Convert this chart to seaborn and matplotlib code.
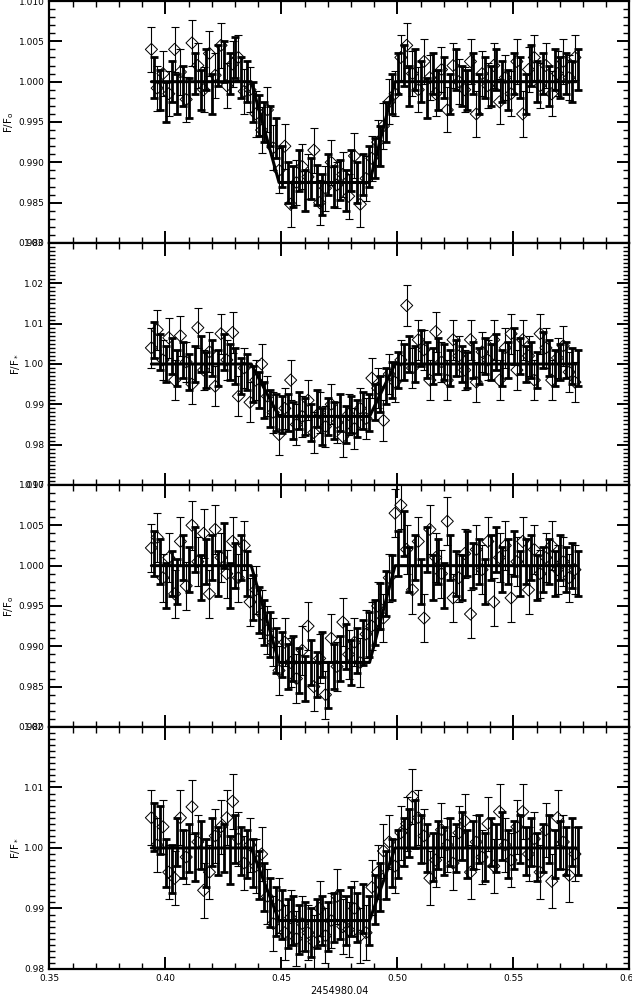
import matplotlib
matplotlib.use('Agg')
import matplotlib.pyplot as plt
import seaborn as sns
from matplotlib.ticker import MultipleLocator, FormatStrFormatter

# czasy obserwacji (dwie serie przesuniete wzgledem siebie)
T_OPEN = [0.3940, 0.3965, 0.3990, 0.4015, 0.4040, 0.4065, 0.4090, 0.4115, 0.4140, 0.4165,
          0.4190, 0.4215, 0.4240, 0.4265, 0.4290, 0.4315, 0.4340, 0.4365, 0.4390, 0.4415,
          0.4440, 0.4465, 0.4490, 0.4515, 0.4540, 0.4565, 0.4590, 0.4615, 0.4640, 0.4665,
          0.4690, 0.4715, 0.4740, 0.4765, 0.4790, 0.4815, 0.4840, 0.4865, 0.4890, 0.4915,
          0.4940, 0.4965, 0.4990, 0.5015, 0.5040, 0.5065, 0.5090, 0.5115, 0.5140, 0.5165,
          0.5190, 0.5215, 0.5240, 0.5265, 0.5290, 0.5315, 0.5340, 0.5365, 0.5390, 0.5415,
          0.5440, 0.5465, 0.5490, 0.5515, 0.5540, 0.5565, 0.5590, 0.5615, 0.5640, 0.5665,
          0.5690, 0.5715, 0.5740, 0.5765]
T_THICK = [0.3952, 0.3977, 0.4002, 0.4027, 0.4052, 0.4077, 0.4102, 0.4127, 0.4152, 0.4177,
           0.4202, 0.4227, 0.4252, 0.4277, 0.4302, 0.4327, 0.4352, 0.4377, 0.4402, 0.4427,
           0.4452, 0.4477, 0.4502, 0.4527, 0.4552, 0.4577, 0.4602, 0.4627, 0.4652, 0.4677,
           0.4702, 0.4727, 0.4752, 0.4777, 0.4802, 0.4827, 0.4852, 0.4877, 0.4902, 0.4927,
           0.4952, 0.4977, 0.5002, 0.5027, 0.5052, 0.5077, 0.5102, 0.5127, 0.5152, 0.5177,
           0.5202, 0.5227, 0.5252, 0.5277, 0.5302, 0.5327, 0.5352, 0.5377, 0.5402, 0.5427,
           0.5452, 0.5477, 0.5502, 0.5527, 0.5552, 0.5577, 0.5602, 0.5627, 0.5652, 0.5677,
           0.5702, 0.5727, 0.5752, 0.5777]

# panel 1
P1_OPEN = [1.0040, 0.9992, 1.0010, 0.9985, 1.0040, 1.0012, 0.9978, 1.0048, 1.0020, 0.9990,
           1.0035, 1.0008, 1.0045, 0.9995, 1.0022, 1.0030, 0.9988,
           0.9990, 0.9960, 0.9940, 0.9965, 0.9918,
           0.9890, 0.9920, 0.9848, 0.9875, 0.9895, 0.9882, 0.9915, 0.9850, 0.9868, 0.9900,
           0.9872, 0.9885, 0.9858, 0.9908, 0.9848, 0.9880,
           0.9905, 0.9925, 0.9945, 0.9975, 0.9985,
           1.0030, 1.0045, 1.0010, 0.9990, 1.0025, 1.0005, 0.9985, 1.0015, 0.9965, 1.0020,
           1.0000, 0.9990, 1.0025, 0.9960, 1.0010, 0.9995, 1.0020, 0.9975, 1.0005, 0.9985,
           1.0025, 0.9960, 1.0015, 1.0030, 0.9995, 1.0020, 0.9985, 1.0010, 1.0025, 1.0005,
           1.0030]
P1_THICK = [1.0005, 0.9990, 0.9975, 1.0000, 0.9985, 0.9995, 0.9980, 1.0010, 0.9990, 1.0015,
            0.9985, 1.0020, 1.0025, 1.0010, 1.0030, 1.0005, 1.0000,
            0.9975, 0.9958, 0.9950, 0.9945, 0.9930,
            0.9895, 0.9875, 0.9870, 0.9890, 0.9865, 0.9880, 0.9872, 0.9860, 0.9885, 0.9870,
            0.9878, 0.9865, 0.9890, 0.9875, 0.9885, 0.9895,
            0.9905, 0.9920, 0.9950, 0.9985, 1.0010,
            1.0020, 0.9995, 1.0015, 1.0000, 0.9980, 1.0010, 0.9990, 1.0005, 0.9985, 1.0015,
            0.9995, 0.9990, 1.0010, 0.9985, 1.0005, 0.9995, 1.0015, 1.0000, 0.9990, 1.0010,
            1.0005, 0.9985, 1.0020, 1.0000, 1.0010, 0.9995, 1.0015, 1.0005, 1.0010, 1.0000,
            1.0015]

# panel 2
P2_OPEN = [1.0040, 1.0085, 1.0010, 1.0065, 0.9960, 1.0070, 1.0005, 0.9950, 1.0090, 0.9985,
           1.0030, 0.9945, 1.0075, 1.0010, 1.0078, 0.9920, 0.9990,
           0.9905, 0.9960, 1.0000, 0.9920, 0.9880,
           0.9825, 0.9890, 0.9960, 0.9850, 0.9870, 0.9910, 0.9830, 0.9880, 0.9845, 0.9900,
           0.9855, 0.9820, 0.9875, 0.9840, 0.9890, 0.9865,
           0.9965, 0.9940, 0.9860, 0.9975, 0.9955,
           1.0010, 1.0145, 0.9990, 1.0060, 1.0035, 0.9960, 1.0080, 1.0005, 0.9960, 1.0060,
           1.0020, 0.9985, 1.0060, 0.9955, 1.0030, 1.0010, 1.0060, 0.9960, 1.0040, 1.0075,
           0.9985, 1.0060, 1.0020, 0.9960, 1.0075, 1.0040, 0.9960, 1.0015, 1.0045, 0.9980,
           0.9955]
P2_THICK = [1.0060, 1.0030, 1.0000, 1.0020, 0.9990, 1.0010, 0.9980, 1.0000, 1.0025, 0.9985,
            1.0015, 0.9990, 1.0030, 1.0005, 0.9995, 0.9970, 0.9980,
            0.9950, 0.9935, 0.9910, 0.9890, 0.9880,
            0.9875, 0.9880, 0.9860, 0.9885, 0.9870, 0.9855, 0.9890, 0.9845, 0.9870, 0.9860,
            0.9880, 0.9850, 0.9875, 0.9865, 0.9885, 0.9880,
            0.9905, 0.9925, 0.9945, 0.9960, 0.9985,
            1.0005, 1.0025, 1.0000, 1.0040, 1.0010, 0.9995, 1.0020, 1.0005, 0.9990, 1.0015,
            1.0000, 0.9985, 1.0010, 0.9995, 1.0020, 1.0005, 1.0030, 0.9990, 1.0010, 1.0045,
            1.0020, 1.0000, 1.0010, 0.9985, 1.0035, 1.0015, 0.9990, 1.0005, 1.0010, 0.9995,
            0.9990]

# panel 3
P3_OPEN = [1.0022, 1.0035, 0.9985, 1.0010, 0.9965, 1.0030, 0.9975, 1.0050, 1.0005, 1.0040,
           0.9965, 1.0045, 1.0010, 0.9990, 1.0030, 0.9985, 1.0025,
           0.9955, 0.9970, 0.9940, 0.9920, 0.9905,
           0.9870, 0.9905, 0.9880, 0.9860, 0.9895, 0.9925, 0.9850, 0.9885, 0.9840, 0.9910,
           0.9875, 0.9930, 0.9890, 0.9905, 0.9880, 0.9915,
           0.9925, 0.9950, 0.9935, 0.9985, 1.0065,
           1.0075, 1.0020, 0.9970, 1.0030, 0.9935, 1.0045, 1.0010, 0.9990, 1.0055, 0.9960,
           0.9985, 1.0015, 0.9940, 1.0020, 0.9995, 1.0030, 0.9955, 1.0010, 1.0025, 0.9960,
           1.0005, 1.0030, 0.9970, 1.0020, 0.9990, 1.0010, 1.0025, 0.9995, 1.0005, 0.9985,
           0.9995]
P3_THICK = [1.0015, 1.0005, 0.9975, 0.9990, 0.9980, 1.0010, 0.9995, 1.0020, 0.9985, 1.0005,
            1.0010, 0.9990, 1.0025, 0.9975, 1.0000, 1.0010, 0.9990,
            0.9960, 0.9945, 0.9930, 0.9915, 0.9895,
            0.9890, 0.9875, 0.9885, 0.9870, 0.9860, 0.9880, 0.9865, 0.9890, 0.9852, 0.9875,
            0.9885, 0.9900, 0.9880, 0.9895, 0.9905, 0.9915,
            0.9930, 0.9950, 0.9965, 0.9985, 1.0015,
            1.0040, 0.9995, 1.0010, 0.9980, 1.0020, 0.9985, 1.0005, 0.9975, 1.0010, 0.9990,
            0.9985, 1.0015, 1.0000, 1.0005, 0.9980, 1.0010, 1.0020, 0.9995, 1.0005, 1.0015,
            0.9990, 1.0005, 1.0010, 0.9985, 0.9995, 1.0005, 0.9990, 1.0010, 0.9995, 1.0000,
            0.9990]

# panel 4
P4_OPEN = [1.0050, 1.0005, 1.0035, 0.9960, 0.9950, 1.0050, 0.9985, 1.0068, 1.0010, 0.9930,
           0.9960, 1.0020, 1.0035, 1.0050, 1.0077, 1.0015, 0.9975,
           1.0005, 0.9970, 0.9990, 0.9920, 0.9875,
           0.9905, 0.9860, 0.9885, 0.9850, 0.9875, 0.9860, 0.9845, 0.9900, 0.9855, 0.9880,
           0.9920, 0.9870, 0.9865, 0.9900, 0.9855, 0.9860,
           0.9935, 0.9960, 0.9995, 1.0010, 0.9970,
           1.0025, 1.0040, 1.0085, 1.0050, 1.0020, 0.9950, 0.9980, 1.0030, 1.0005, 0.9975,
           1.0025, 1.0045, 0.9960, 1.0010, 0.9985, 1.0040, 0.9970, 1.0060, 1.0005, 0.9980,
           1.0035, 1.0060, 0.9990, 1.0015, 0.9960, 1.0030, 0.9945, 1.0050, 1.0010, 0.9955,
           0.9990]
P4_THICK = [1.0035, 1.0030, 0.9975, 0.9965, 1.0010, 0.9990, 1.0000, 0.9985, 1.0005, 0.9975,
            1.0010, 0.9995, 1.0000, 0.9980, 1.0015, 0.9995, 0.9990,
            0.9975, 0.9955, 0.9935, 0.9910, 0.9895,
            0.9890, 0.9875, 0.9880, 0.9865, 0.9870, 0.9860, 0.9875, 0.9880, 0.9870, 0.9885,
            0.9890, 0.9880, 0.9895, 0.9885, 0.9900, 0.9880,
            0.9915, 0.9935, 0.9955, 0.9975, 0.9990,
            1.0010, 1.0025, 1.0040, 1.0015, 1.0000, 0.9985, 1.0005, 0.9995, 1.0010, 1.0000,
            1.0020, 0.9990, 1.0005, 1.0015, 0.9985, 1.0010, 1.0000, 1.0020, 0.9990, 1.0005,
            1.0015, 0.9995, 1.0010, 0.9985, 1.0000, 1.0015, 0.9990, 1.0005, 0.9995, 1.0010,
            0.9995]

ERR_OPEN = [0.0028, 0.0050, 0.0030, 0.0045]
ERR_THICK = [0.0025, 0.0045, 0.0028, 0.0040]

# model tranzytu (trapez)
MODEL_T = [0.394, 0.437, 0.449, 0.488, 0.499, 0.577]
MODEL_F = [
    [1.0, 1.0, 0.9875, 0.9875, 1.0, 1.0],
    [1.0, 1.0, 0.9870, 0.9870, 1.0, 1.0],
    [1.0, 1.0, 0.9880, 0.9880, 1.0, 1.0],
    [1.0, 1.0, 0.9880, 0.9880, 1.0, 1.0],
]

Y_LIMITS = [(0.980, 1.010), (0.97, 1.03), (0.980, 1.010), (0.98, 1.02)]
Y_MAJOR = [0.005, 0.01, 0.005, 0.01]
Y_FMT = ['%.3f', '%.2f', '%.3f', '%.2f']
Y_LABELS = ['F/F$_o$', 'F/F$_*$', 'F/F$_o$', 'F/F$_*$']
X_LABEL = '2454980.04'

OPEN = [P1_OPEN, P2_OPEN, P3_OPEN, P4_OPEN]
THICK = [P1_THICK, P2_THICK, P3_THICK, P4_THICK]

sns.set_style("ticks")
plt.rcParams.update({
    'font.family': ['DejaVu Sans'],
    'mathtext.default': 'regular',
    'text.color': 'black', 'axes.labelcolor': 'black', 'axes.edgecolor': 'black',
    'xtick.color': 'black', 'ytick.color': 'black',
    'xtick.direction': 'in', 'ytick.direction': 'in',
    'xtick.top': True, 'ytick.right': True,
    'axes.linewidth': 1.6,
})

fig, axes = plt.subplots(4, 1, figsize=(6.32, 10.01), dpi=100, sharex=True)
fig.subplots_adjust(left=0.078, right=0.996, top=0.999, bottom=0.032, hspace=0)

for i, ax in enumerate(axes):
    ax.errorbar(T_OPEN, OPEN[i], yerr=ERR_OPEN[i], fmt='none', ecolor='k',
                elinewidth=0.8, capsize=3, capthick=0.8, zorder=2)
    ax.errorbar(T_THICK, THICK[i], yerr=ERR_THICK[i], fmt='none', ecolor='k',
                elinewidth=2.0, capsize=3, capthick=2.0, zorder=3)
    sns.scatterplot(x=T_OPEN, y=OPEN[i], marker='D', s=38, color='k',
                    facecolor='none', edgecolor='k', linewidth=0.7, ax=ax, zorder=4)
    sns.lineplot(x=MODEL_T, y=MODEL_F[i], color='k', linewidth=2.2, ax=ax, zorder=5)

    ax.set_xlim(0.35, 0.60)
    ax.set_ylim(*Y_LIMITS[i])
    ax.xaxis.set_major_locator(MultipleLocator(0.05))
    ax.xaxis.set_minor_locator(MultipleLocator(0.01))
    ax.yaxis.set_major_locator(MultipleLocator(Y_MAJOR[i]))
    ax.yaxis.set_minor_locator(MultipleLocator(0.001))
    ax.yaxis.set_major_formatter(FormatStrFormatter(Y_FMT[i]))
    ax.tick_params(which='major', length=9, width=1.4, labelsize=6.5)
    ax.tick_params(which='minor', length=4.5, width=1.0)
    ax.set_ylabel(Y_LABELS[i], fontsize=7.5, labelpad=2)

axes[-1].xaxis.set_major_formatter(FormatStrFormatter('%.2f'))
axes[-1].set_xlabel(X_LABEL, fontsize=7, labelpad=2)

plt.savefig('out.png', dpi=100)
plt.close()
